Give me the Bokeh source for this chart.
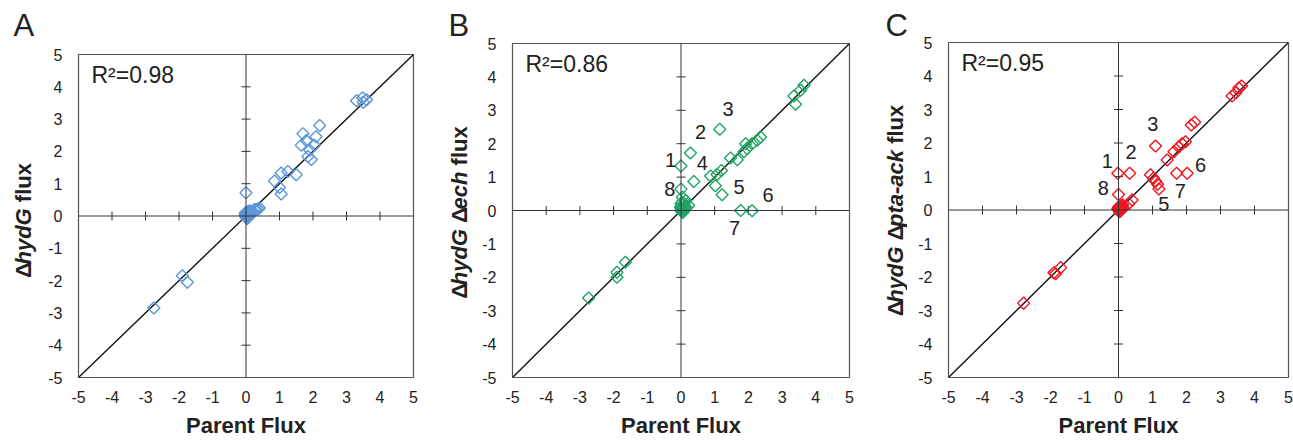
import math
from bokeh.plotting import figure
from bokeh.layouts import row, column
from bokeh.models import Span, FixedTicker
from bokeh.core.properties import value
from bokeh.embed import file_html
from bokeh.resources import INLINE

# ---------------- data ----------------
TICKS = [-5, -4, -3, -2, -1, 0, 1, 2, 3, 4, 5]
TICK_LABELS = {t: str(t) for t in TICKS}
CROSS_TICKS = [-4, -3, -2, -1, 1, 2, 3, 4]
DIAG = [-5, 5]

# Panel A: delta hydG vs parent
a_parent = [0.0, 0.02, 0.05, 0.0, 0.08, 0.1, 0.03, 0.12, 0.15, 0.06, -0.03, 0.2, 0.25, 0.3, 0.36, 0.4,
            0.04, 0.0, 0.07, 0.11, -0.02,
            0.0,
            0.85, 1.0, 1.05, 1.05, 1.25, 1.5, 1.65, 1.7, 1.8, 1.85, 1.9, 1.95, 2.04, 2.09, 2.2,
            3.3, 3.48, 3.6, 3.5,
            -2.75, -1.9, -1.75]
a_mutant = [0.0, 0.03, 0.0, 0.06, 0.08, 0.02, 0.12, 0.1, 0.05, -0.03, 0.02, 0.15, 0.2, 0.2, 0.22, 0.25,
            -0.08, -0.05, 0.14, 0.16, 0.09,
            0.72,
            1.08, 0.88, 1.33, 0.68, 1.38, 1.28, 2.19, 2.55, 2.34, 1.84, 2.04, 1.75, 2.19, 2.45, 2.8,
            3.57, 3.66, 3.6, 3.52,
            -2.85, -1.85, -2.05]
a_r2 = "R\u00b2=0.98"

# Panel B: delta hydG delta ech vs parent
b_parent = [0.0, 0.02, 0.05, 0.0, 0.08, 0.1, 0.04, 0.14, 0.0, 0.23, 0.12, 0.06,
            0.03, 0.09, -0.02, 0.15, 0.05,
            0.0, 0.28, 1.15, 0.38, 1.02, 1.22, 2.11, 1.77, 0.0,
            0.88, 1.07, 1.2, 1.47, 1.67, 1.87, 1.92, 1.96, 2.11, 2.26, 2.36,
            3.35, 3.4, 3.55, 3.65,
            -2.74, -1.9, -1.9, -1.65]
b_mutant = [0.0, 0.05, 0.02, 0.08, 0.1, 0.03, 0.4, 0.3, 0.2, 0.15, 0.12, -0.03,
            0.25, 0.2, 0.1, 0.08, -0.06,
            1.33, 1.72, 2.43, 0.87, 0.74, 0.47, -0.01, 0.0, 0.64,
            1.03, 1.08, 1.2, 1.57, 1.52, 1.76, 2.0, 1.86, 2.0, 2.1, 2.2,
            3.43, 3.18, 3.6, 3.75,
            -2.62, -1.85, -2.0, -1.55]
b_r2 = "R\u00b2=0.86"
b_lab_text = ["1", "2", "3", "4", "5", "6", "7", "8"]
b_lab_x = [-0.31, 0.58, 1.40, 0.63, 1.72, 2.58, 1.59, -0.33]
b_lab_y = [1.52, 2.35, 3.04, 1.42, 0.71, 0.45, -0.53, 0.64]

# Panel C: delta hydG delta pta-ack vs parent
c_parent = [0.0, 0.02, 0.05, 0.0, 0.08, 0.1, 0.04, 0.14, 0.12, 0.3, 0.4,
            0.03, 0.09, -0.02, 0.06,
            -0.02, 0.33, 1.09, 0.0, 0.94, 1.03, 1.09, 1.15, 1.19, 1.71, 2.02,
            1.43, 1.63, 1.77, 1.87, 1.97, 2.14, 2.24,
            3.34, 3.45, 3.54, 3.62,
            -2.79, -1.9, -1.85, -1.7]
c_mutant = [0.0, 0.05, 0.02, 0.08, 0.1, 0.03, 0.12, 0.06, 0.15, 0.19, 0.3,
            -0.05, 0.13, 0.04, -0.02,
            1.1, 1.1, 1.91, 0.46, 1.05, 0.95, 0.86, 0.77, 0.63, 1.1, 1.1,
            1.49, 1.74, 1.88, 1.98, 2.04, 2.54, 2.62,
            3.4, 3.5, 3.64, 3.7,
            -2.78, -1.87, -1.9, -1.72]
c_r2 = "R\u00b2=0.95"
c_lab_text = ["1", "2", "3", "5", "6", "7", "8"]
c_lab_x = [-0.33, 0.37, 1.01, 1.33, 2.41, 1.82, -0.45]
c_lab_y = [1.47, 1.74, 2.57, 0.17, 1.34, 0.56, 0.66]

# ---------------- styling ----------------
FONT = "Liberation Sans"
TXT = "#222222"
EM = {'Δ': 0.612, 'h': 0.611, 'y': 0.556, 'd': 0.611, 'G': 0.778, ' ': 0.278, 'f': 0.333,
      'l': 0.278, 'u': 0.611, 'x': 0.556, 'e': 0.556, 'c': 0.556, 'p': 0.611, 't': 0.333,
      'a': 0.556, '-': 0.333, 'k': 0.556}
YLAB_SIZE = 22
SIDE_W = 45
H = 440


def text_w(s, size):
    return sum(EM.get(ch, 0.556) for ch in s) * size


def make_side(letter, letter_x, lab_x, lab_cy, ylab_parts):
    """Narrow strip left of a panel holding the panel letter and the rotated y label."""
    s = figure(width=SIDE_W, height=H, x_range=(0, SIDE_W), y_range=(0, H),
               output_backend="svg", toolbar_location=None,
               min_border_left=0, min_border_right=0, min_border_top=0, min_border_bottom=0)
    s.axis.visible = False
    s.grid.visible = False
    s.outline_line_color = None
    s.background_fill_color = "white"
    s.border_fill_color = "white"
    s.text([letter_x], [H - 25], text=[letter], text_font=value(FONT), text_font_size="31px",
           text_color=TXT, text_align="left", text_baseline="middle")
    total = 0
    for txt, style, gap in ylab_parts:
        total += gap * YLAB_SIZE + text_w(txt, YLAB_SIZE)
    pos = (H - lab_cy) - total / 2
    for txt, style, gap in ylab_parts:
        pos += gap * YLAB_SIZE
        s.text([lab_x], [pos], text=[txt], angle=math.pi / 2, text_font=value(FONT),
               text_font_size=f"{YLAB_SIZE}px", text_font_style=style, text_color=TXT,
               text_align="left", text_baseline="middle")
        pos += text_w(txt, YLAB_SIZE)
    return s


def make_panel(xs, ys, color, r2, borders, lab_text=None, lab_x=None, lab_y=None):
    bl, br, bt, bb = borders
    p = figure(width=431 - SIDE_W, height=H, x_range=(-5, 5), y_range=(-5, 5),
               output_backend="svg", toolbar_location=None,
               min_border_left=bl, min_border_right=br, min_border_top=bt, min_border_bottom=bb)
    p.background_fill_color = "white"
    p.border_fill_color = "white"
    p.outline_line_color = "#555555"
    p.outline_line_width = 1.2
    p.grid.visible = False
    for ax in (p.xaxis, p.yaxis):
        ax.ticker = FixedTicker(ticks=TICKS)
        ax.major_label_overrides = TICK_LABELS
        ax.axis_line_color = None
        ax.major_tick_line_color = None
        ax.minor_tick_line_color = None
        ax.major_label_text_font = FONT
        ax.major_label_text_font_size = "16px"
        ax.major_label_text_color = TXT
    p.xaxis.major_label_standoff = 7
    p.yaxis.major_label_standoff = 10
    p.xaxis.axis_label = "Parent Flux"
    p.xaxis.axis_label_text_font = FONT
    p.xaxis.axis_label_text_font_style = "bold"
    p.xaxis.axis_label_text_font_size = "22px"
    p.xaxis.axis_label_text_color = TXT
    p.xaxis.axis_label_standoff = 7

    # cross axes through the origin
    p.add_layout(Span(location=0, dimension="height", line_color="#333333", line_width=1))
    p.add_layout(Span(location=0, dimension="width", line_color="#333333", line_width=1))
    p.scatter(CROSS_TICKS, [0] * len(CROSS_TICKS), marker="dash", size=9, angle=math.pi / 2,
              line_color="#333333", line_width=1)
    p.scatter([0] * len(CROSS_TICKS), CROSS_TICKS, marker="dash", size=9,
              line_color="#333333", line_width=1)

    # identity line
    p.line(DIAG, DIAG, line_color="#111111", line_width=1.4)

    # data
    p.scatter(xs, ys, marker="square", angle=math.pi / 4, size=8.5,
              fill_color=None, line_color=color, line_width=1.4)

    if lab_text:
        p.text(lab_x, lab_y, text=lab_text, text_font=value(FONT), text_font_size="20px",
               text_color=TXT, text_align="center", text_baseline="middle")

    p.text([-5], [5], text=[r2], x_offset=13, y_offset=20, text_font=value(FONT),
           text_font_size="23px", text_color=TXT, text_baseline="middle")
    return p


ya = [("Δ", "bold", 0), ("hydG", "bold italic", 0), ("flux", "bold", 0.278)]
yb = [("Δ", "bold", 0), ("hydG", "bold italic", 0), ("Δ", "bold", 0.278),
      ("ech", "bold italic", 0), ("flux", "bold", 0.278)]
yc = [("Δ", "bold", 0), ("hydG", "bold italic", 0), ("Δ", "bold", 0.278),
      ("pta-ack", "bold italic", 0), ("flux", "bold", 0.278)]

sa = make_side("A", 13, 76 - 53, 220, ya)
pa = make_panel(a_parent, a_mutant, "#5A96D8", a_r2, (76 - SIDE_W, 18, 54, 56))
sb = make_side("B", 17, 512 - 53 - 431, 212, yb)
pb = make_panel(b_parent, b_mutant, "#1FA564", b_r2, (81 - SIDE_W, 13, 43, 56),
                b_lab_text, b_lab_x, b_lab_y)
sc = make_side("C", 23, 948 - 53 - 862, 210, yc)
pc = make_panel(c_parent, c_mutant, "#F2141E", c_r2, (86 - SIDE_W, 5, 42, 57),
                c_lab_text, c_lab_x, c_lab_y)

layout = row(column(sa), column(pa), column(sb), column(pb), column(sc), column(pc))
open("out.html", "w").write(file_html(layout, INLINE))
